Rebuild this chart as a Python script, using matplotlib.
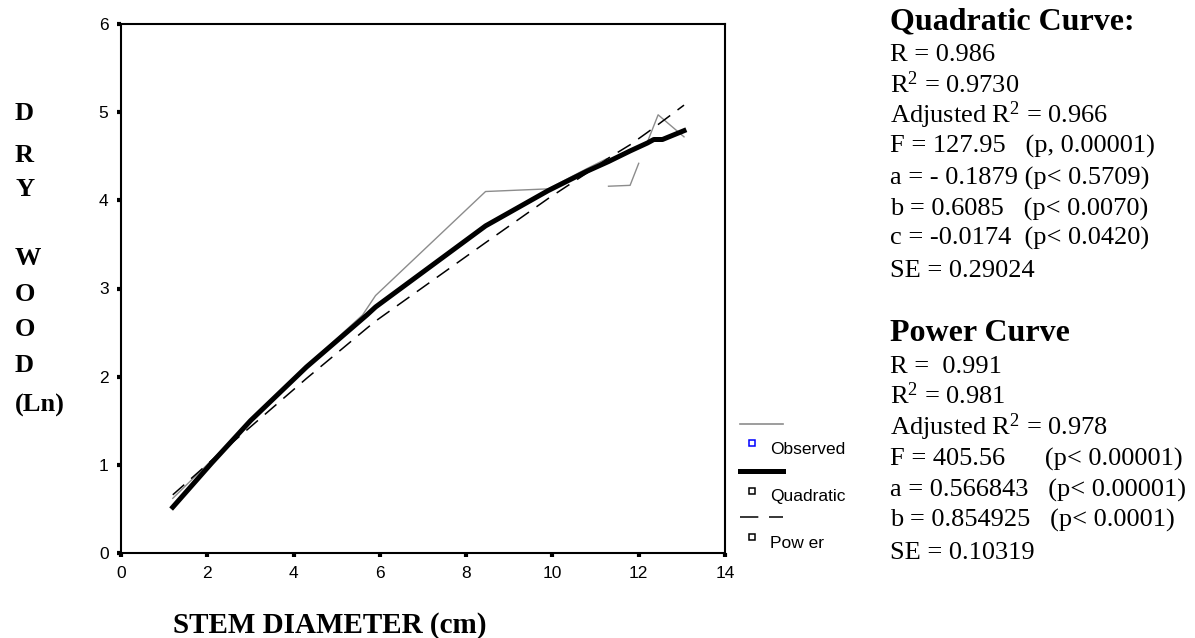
import numpy as np
import matplotlib
matplotlib.use("Agg")
import matplotlib.pyplot as plt
from matplotlib.lines import Line2D

# ---------------------------------------------------------------
# Dry wood (Ln) vs stem diameter: observed, quadratic and power fits
# ---------------------------------------------------------------

plt.rcParams["mathtext.fontset"] = "custom"
plt.rcParams["mathtext.rm"] = "Liberation Serif"
plt.rcParams["mathtext.it"] = "Liberation Serif:italic"
plt.rcParams["mathtext.bf"] = "Liberation Serif:bold"

nan = np.nan

# observed series (gaps where the original line is broken)
obs_x = [1.2, 1.7, 2.1, 3.0, 4.3, 5.6, 5.9, 8.45, 9.9, 10.8, 11.25, nan, 11.3, 11.8, 12.0, nan, 12.2, 12.45, 13.05]
obs_y = [0.62, 0.86, 1.05, 1.50, 2.12, 2.70, 2.92, 4.10, 4.13, 4.36, 4.47, nan, 4.16, 4.17, 4.42, nan, 4.66, 4.97, 4.72]

# quadratic fit
quad_x = [1.2, 2.1, 3.0, 4.3, 5.7, 5.9, 8.45, 9.9, 10.8, 11.3, 11.8, 12.2, 12.35, 12.55, 13.05]
quad_y = [0.52, 1.02, 1.50, 2.11, 2.70, 2.79, 3.71, 4.11, 4.33, 4.44, 4.56, 4.65, 4.69, 4.69, 4.79]

# power fit
pow_x = [1.2, 2.1, 3.0, 4.3, 5.7, 5.9, 8.45, 9.9, 10.8, 11.3, 11.8, 12.2, 12.45, 13.05]
pow_y = [0.66, 1.05, 1.43, 1.98, 2.55, 2.63, 3.52, 4.02, 4.31, 4.48, 4.63, 4.77, 4.86, 5.08]

x_ticks = [0, 2, 4, 6, 8, 10, 12, 14]
y_ticks = [0, 1, 2, 3, 4, 5, 6]

y_letters = ["D", "R", "Y", "W", "O", "O", "D", "(Ln)"]

quad_title = "Quadratic Curve:"
quad_lines = [
    "R = 0.986",
    "R$^2$ = 0.9730",
    "Adjusted R$^2$ = 0.966",
    "F = 127.95   (p, 0.00001)",
    "a = - 0.1879 (p< 0.5709)",
    "b = 0.6085   (p< 0.0070)",
    "c = -0.0174  (p< 0.0420)",
    "SE = 0.29024",
]
pow_title = "Power Curve"
pow_lines = [
    "R =  0.991",
    "R$^2$ = 0.981",
    "Adjusted R$^2$ = 0.978",
    "F = 405.56      (p< 0.00001)",
    "a = 0.566843   (p< 0.00001)",
    "b = 0.854925   (p< 0.0001)",
    "SE = 0.10319",
]

W, H = 1195, 638
fig = plt.figure(figsize=(W / 100, H / 100), dpi=100)


def fx(px):
    return px / W


def fy(py):
    return 1 - py / H


# plot area
ax = fig.add_axes([fx(121), fy(553), fx(725) - fx(121), fy(24) - fy(553)])
ax.plot(obs_x, obs_y, color="#8c8c8c", lw=1.0)
ax.plot(quad_x, quad_y, color="black", lw=3.6, solid_joinstyle="round")
ax.plot(pow_x, pow_y, color="black", lw=1.1, dashes=(10, 6))

ax.set_xlim(0, 14)
ax.set_ylim(0, 6)
ax.set_xticks(x_ticks)
ax.set_yticks(y_ticks)
ax.tick_params(direction="out", length=3, width=3, labelsize=12.5, pad=6)
for lab in ax.get_xticklabels() + ax.get_yticklabels():
    lab.set_family("Liberation Sans")
for sp in ax.spines.values():
    sp.set_linewidth(1.5)

# vertical stacked y label
serif = "Liberation Serif"
letter_y = [114, 155, 190, 259, 294, 329, 366, 405]
for txt, yy in zip(y_letters, letter_y):
    fig.text(fx(15), fy(yy), txt, fontsize=19, fontweight="bold", family=serif,
             ha="left", va="center")

fig.text(fx(173), fy(633), "STEM DIAMETER (cm)", fontsize=21, fontweight="bold",
         family=serif, ha="left", va="baseline")

# legend drawn by hand
def leg_line(y, **kw):
    fig.add_artist(Line2D([fx(740), fx(783)], [fy(y), fy(y)], transform=fig.transFigure, **kw))


leg_line(424, color="#8c8c8c", lw=1.2)
leg_line(471, color="black", lw=3.6)
leg_line(517, color="black", lw=1.1, dashes=(12, 7))
for yy, ec, name, ty in [(443, "blue", "Observed", 449),
                         (491, "black", "Quadratic", 497),
                         (537, "black", "Pow er", 543)]:
    fig.add_artist(Line2D([fx(752.5)], [fy(yy)], transform=fig.transFigure, marker="s",
                          ms=4.5, mfc="white", mec=ec, mew=1.1, ls="none"))
    fig.text(fx(770), fy(ty), name, fontsize=12.5, family="Liberation Sans",
             ha="left", va="center")

# statistics text
fig.text(fx(890), fy(29.6), quad_title, fontsize=23, fontweight="bold", family=serif,
         va="baseline")
for s, yy in zip(quad_lines, [60.6, 92.6, 123, 153, 185, 215.5, 245, 277]):
    fig.text(fx(890), fy(yy), s, fontsize=19, family=serif, va="baseline")

fig.text(fx(890), fy(341), pow_title, fontsize=23, fontweight="bold", family=serif,
         va="baseline")
for s, yy in zip(pow_lines, [373, 404, 435, 466, 497, 527, 559]):
    fig.text(fx(890), fy(yy), s, fontsize=19, family=serif, va="baseline")

fig.savefig("out.png", dpi=100)
